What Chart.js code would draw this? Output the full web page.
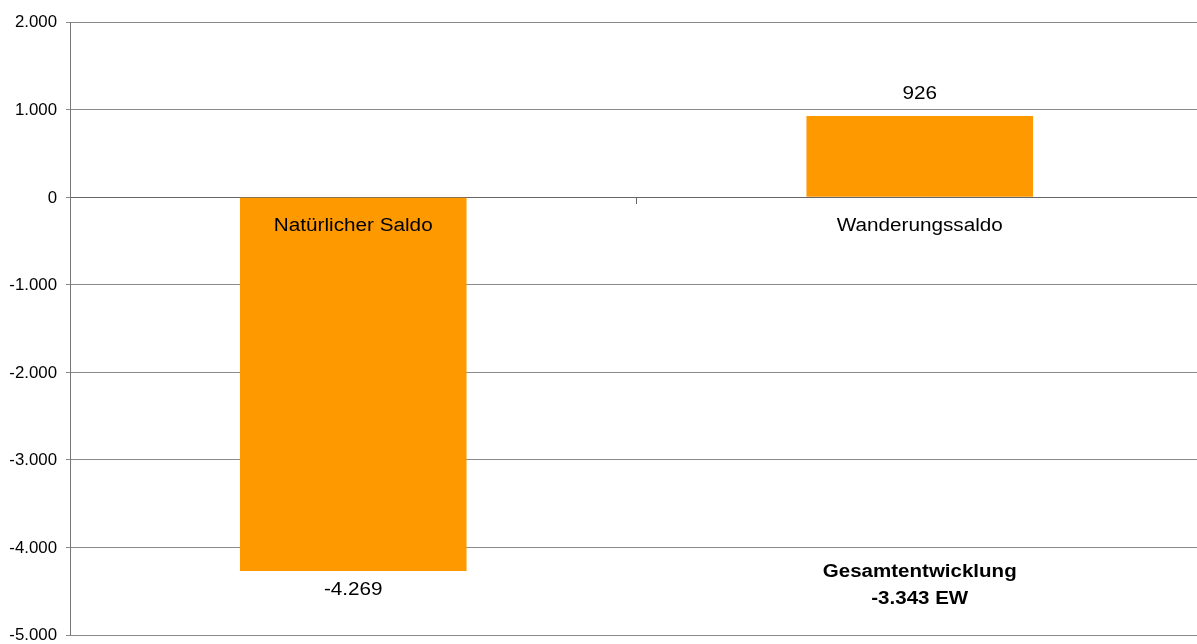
<!DOCTYPE html>
<html>
<head>
<meta charset="utf-8">
<script src="https://cdn.jsdelivr.net/npm/chart.js@4"></script>
<style>
html,body{margin:0;padding:0;background:#fff;overflow:hidden;}
#wrap{position:relative;width:1203px;height:652px;}
</style>
</head>
<body>
<div id="wrap"><canvas id="c"></canvas></div>
<script>
const categories = ["Natürlicher Saldo", "Wanderungssaldo"];
const values = [-4269, 926];
const valueLabels = ["-4.269", "926"];
const totalLabel = ["Gesamtentwicklung", "-3.343 EW"];
const yMin = -5000, yMax = 2000, yStep = 1000;

function fmt(v){
  const s = Math.abs(v).toString().replace(/\B(?=(\d{3})+(?!\d))/g, ".");
  return (v < 0 ? "-" : "") + s;
}

const FONT = "'Liberation Sans', Arial, Helvetica, sans-serif";

function stretchText(ctx, txt, x, y, sx){
  ctx.save();
  ctx.translate(x, y);
  ctx.scale(sx, 1);
  ctx.fillText(txt, 0, 0);
  ctx.restore();
}

const labelPlugin = {
  id: 'labels',
  afterDraw(chart){
    const ctx = chart.ctx;
    const xs = chart.scales.x, ys = chart.scales.y;
    ctx.save();
    ctx.fillStyle = '#000';
    ctx.textBaseline = 'middle';
    ctx.textAlign = 'right';
    ctx.font = "16px " + FONT;
    ys.ticks.forEach(t => {
      stretchText(ctx, fmt(t.value), 57, ys.getPixelForValue(t.value) + 1, 1.05);
    });
    ctx.textAlign = 'center';
    ctx.font = "18px " + FONT;
    const y0 = ys.getPixelForValue(0);
    values.forEach((v, i) => {
      const x = xs.getPixelForValue(i);
      const yv = ys.getPixelForValue(v);
      if (v < 0) stretchText(ctx, valueLabels[i], x, yv + 19, 1.15);
      else stretchText(ctx, valueLabels[i], x, yv - 22, 1.15);
      stretchText(ctx, categories[i], x, y0 + 29, 1.15);
    });
    const xt = xs.getPixelForValue(1);
    ctx.font = "bold 18px " + FONT;
    stretchText(ctx, totalLabel[0], xt, ys.getPixelForValue(-4285), 1.14);
    stretchText(ctx, totalLabel[1], xt, ys.getPixelForValue(-4585), 1.14);
    ctx.restore();
  }
};

new Chart(document.getElementById('c'), {
  type: 'bar',
  data: {
    labels: categories,
    datasets: [{
      data: values,
      backgroundColor: '#FF9900',
      borderWidth: 0,
      categoryPercentage: 0.4,
      barPercentage: 1.0
    }]
  },
  options: {
    responsive: true,
    maintainAspectRatio: false,
    animation: false,
    layout: { padding: { top: 22, bottom: 1, left: 0, right: 0 } },
    plugins: { legend: { display: false }, tooltip: { enabled: false } },
    scales: {
      x: {
        position: { y: 0 },
        grid: { display: true, drawOnChartArea: false, drawTicks: true, tickLength: 6, color: '#666', offset: true },
        border: { display: true, color: '#666', width: 1 },
        ticks: { display: false }
      },
      y: {
        min: yMin, max: yMax,
        afterFit(scale){ scale.width = 70; },
        ticks: {
          stepSize: yStep,
          callback: v => fmt(v),
          font: { size: 15, family: FONT },
          color: 'rgba(0,0,0,0)',
          padding: 8
        },
        grid: { color: '#8a8a8a', tickLength: 4, lineWidth: 1 },
        border: { display: true, color: '#777', width: 1 }
      }
    }
  },
  plugins: [labelPlugin]
});
</script>
</body>
</html>
